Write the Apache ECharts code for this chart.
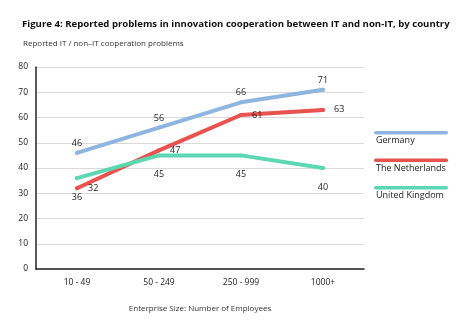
<!DOCTYPE html>
<html><head><meta charset="utf-8">
<script src="https://cdn.jsdelivr.net/npm/echarts@6/dist/echarts.min.js"></script>
<style>html,body{margin:0;padding:0;background:#fff}#c{width:466px;height:321px}</style>
</head><body><div id="c"></div>
<script>
const categories = ['10 - 49', '50 - 249', '250 - 999', '1000+'];
const germany = [46, 56, 66, 71];
const netherlands = [32, 47, 61, 63];
const unitedKingdom = [36, 45, 45, 40];
const seriesNames = ['Germany', 'The Netherlands', 'United Kingdom'];
const yTicks = [0, 10, 20, 30, 40, 50, 60, 70, 80];

const colors = ['#8db5e0', '#e8524f', '#5bd7b1'];
const font = '"Open Sans", "Noto Sans", sans-serif';
const chart = echarts.init(document.getElementById('c'));

function lineSeries(name, data, color, label) {
  return {
    name, type: 'line', data, symbol: 'circle', symbolSize: 4, showSymbol: true,
    lineStyle: { width: 4, color, cap: 'round' },
    itemStyle: { color, borderWidth: 0 },
    label: Object.assign({ show: true, color: '#222', fontSize: 9, fontFamily: font }, label),
    labelLayout: { hideOverlap: false },
    z: 3
  };
}

const legendItems = [];
seriesNames.forEach((n, i) => {
  const y = 131 + i * 27.5;
  legendItems.push({ type: 'rect', shape: { x: 374, y: y, width: 74, height: 3.5, r: 2 }, style: { fill: colors[i] } });
  legendItems.push({ type: 'text', left: 376, top: y + 5, style: { text: n, fill: '#222', font: '9px ' + font } });
});

chart.setOption({
  animation: false,
  title: {
    text: 'Figure 4: Reported problems in innovation cooperation between IT and non-IT, by country',
    left: 17, top: 14,
    textStyle: { fontSize: 9.6, fontWeight: 'bold', color: '#111', fontFamily: font }
  },
  graphic: [{ type: 'text', left: 23, top: 40, style: { text: 'Reported IT / non\u2013IT cooperation problems', fill: '#333', font: '8px ' + font } }].concat(legendItems),
  grid: { left: 36, right: 102, top: 67, bottom: 52 },
  xAxis: {
    type: 'category', data: categories, boundaryGap: true,
    name: 'Enterprise Size: Number of Employees', nameLocation: 'middle', nameGap: 36,
    nameTextStyle: { fontSize: 8, color: '#333', fontFamily: font },
    axisLine: { lineStyle: { color: '#222', width: 1.5 } },
    axisTick: { show: false },
    axisLabel: { fontSize: 8.5, color: '#222', fontFamily: font, margin: 9 }
  },
  yAxis: {
    type: 'value', min: yTicks[0], max: yTicks[yTicks.length - 1], interval: 10,
    axisLine: { show: true, lineStyle: { color: '#222', width: 1.5 } },
    axisTick: { show: false },
    splitLine: { lineStyle: { color: '#d9d9d9', width: 1 } },
    axisLabel: { fontSize: 8.5, color: '#222', fontFamily: font, margin: 8 }
  },
  series: [
    lineSeries(seriesNames[0], germany, colors[0], { position: 'top', distance: 3, offset: [-5, 0] }),
    lineSeries(seriesNames[1], netherlands, colors[1], { position: 'right', distance: 9, offset: [0, 3] }),
    lineSeries(seriesNames[2], unitedKingdom, colors[2], { position: 'bottom', distance: 13, offset: [-2, 0] })
  ]
});
</script></body></html>
